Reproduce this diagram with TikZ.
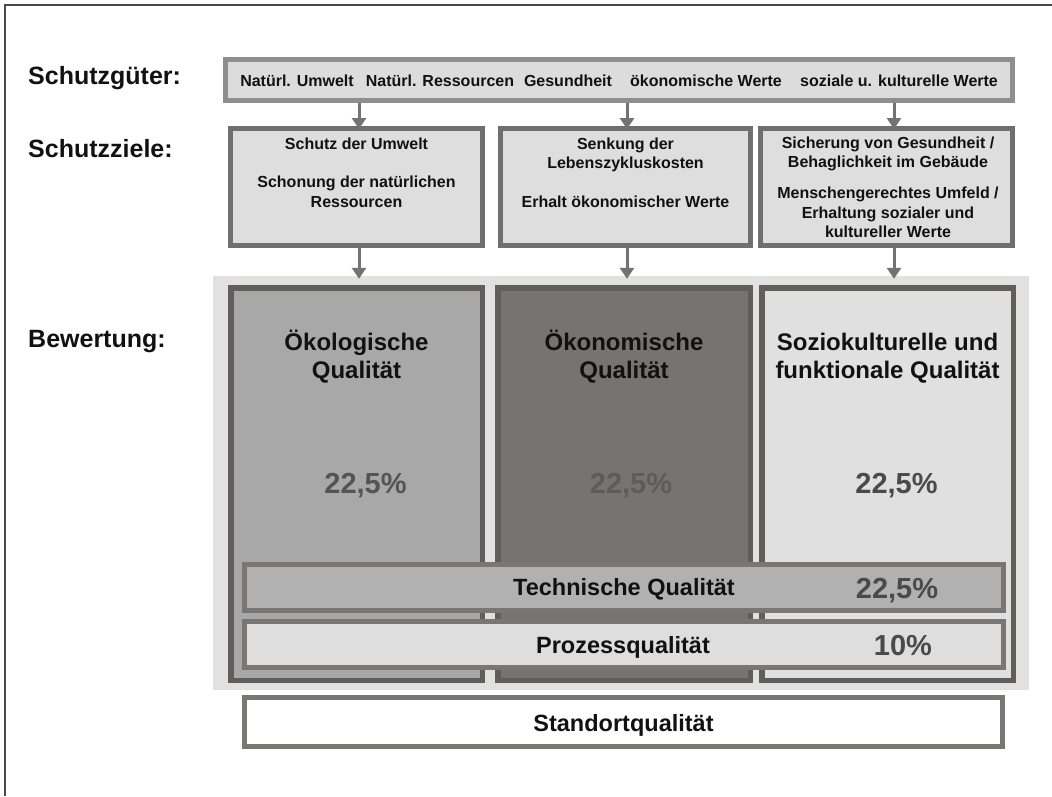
\documentclass[tikz,border=0pt]{standalone}
\usepackage{fontspec}
\setmainfont{Liberation Sans}
\usetikzlibrary{arrows.meta}

\definecolor{frameline}{HTML}{4A4A4A}
\definecolor{gutbox}{HTML}{DCDCDC}
\definecolor{gutline}{HTML}{8E8E8E}
\definecolor{zielbox}{HTML}{DEDEDE}
\definecolor{zielline}{HTML}{6F6F6F}
\definecolor{arrowgray}{HTML}{737373}
\definecolor{backpanel}{HTML}{E1E1E1}
\definecolor{colline}{HTML}{625D5A}
\definecolor{oekofill}{HTML}{A8A8A8}
\definecolor{oekonfill}{HTML}{767370}
\definecolor{soziofill}{HTML}{E0E0E0}
\definecolor{barline}{HTML}{7A7673}
\definecolor{techfill}{HTML}{B1B1B1}
\definecolor{procfill}{HTML}{DEDEDE}
\definecolor{pctA}{HTML}{555453}
\definecolor{pctB}{HTML}{5E5B59}
\definecolor{pctC}{HTML}{4A4A4A}
\definecolor{inktext}{HTML}{111111}

\newcommand{\boldsize}[1]{\fontsize{#1}{#1}\selectfont\bfseries}

\begin{document}
\begin{tikzpicture}[x=1pt,y=-1pt,
  box/.style={rectangle, inner sep=0pt},
  gutstyle/.style={box, fill=gutbox, draw=gutline, line width=5pt},
  zielstyle/.style={box, fill=zielbox, draw=zielline, line width=5pt},
  colstyle/.style={box, draw=colline, line width=5.5pt},
  barstyle/.style={box, draw=barline, line width=5pt},
  flow/.style={draw=arrowgray, line width=3pt, -{Triangle[width=14pt,length=11pt]}},
  lbl/.style={inner sep=0pt, anchor=base west, text=inktext, font=\boldsize{25}},
  small/.style={inner sep=0pt, anchor=base, text=inktext, font=\boldsize{16}},
  head/.style={inner sep=0pt, anchor=base, text=inktext, font=\boldsize{24}},
  pct/.style={inner sep=0pt, anchor=base, font=\boldsize{29}},
]
\useasboundingbox (0,0) rectangle (1052,796);

% frame lines on the left and top edge
\draw[frameline, line width=2pt] (5,796) -- (5,5) -- (1052,5);

% row labels
\node[lbl] (lguter) at (28,84) {Schutzgüter:};
\node[lbl] (lziele) at (28,157) {Schutzziele:};
\node[lbl] (lbew) at (28,347) {Bewertung:};

% protected goods
\node[gutstyle, minimum width=787pt, minimum height=41pt] (sg) at (619,80) {};
\node[small] (g1) at (297,86) {Natürl. Umwelt};
\node[small] (g2) at (440,86) {Natürl. Ressourcen};
\node[small] (g3) at (568,86) {Gesundheit};
\node[small] (g4) at (706,86) {ökonomische Werte};
\node[small] (g5) at (899,86) {soziale u. kulturelle Werte};

% protection targets
\node[zielstyle, minimum width=252pt, minimum height=117pt] (z1) at (356.5,187) {};
\node[zielstyle, minimum width=250pt, minimum height=117pt] (z2) at (625.5,187) {};
\node[zielstyle, minimum width=252pt, minimum height=117pt] (z3) at (886.5,187) {};

\node[small] (z1a) at (356.5,149) {Schutz der Umwelt};
\node[small] (z1b) at (356.5,187) {Schonung der natürlichen};
\node[small] (z1c) at (356.5,207) {Ressourcen};

\node[small] (z2a) at (625.5,149) {Senkung der};
\node[small] (z2b) at (625.5,168) {Lebenszykluskosten};
\node[small] (z2c) at (625.5,207) {Erhalt ökonomischer Werte};

\node[small] (z3a) at (888,148) {Sicherung von Gesundheit /};
\node[small] (z3b) at (888,167) {Behaglichkeit im Gebäude};
\node[small] (z3c) at (888,198) {Menschengerechtes Umfeld /};
\node[small] (z3d) at (888,218) {Erhaltung sozialer und};
\node[small] (z3e) at (888,237) {kultureller Werte};

% assessment panel
\node[box, fill=backpanel, minimum width=816pt, minimum height=414pt] (bg) at (621,483) {};

\node[colstyle, fill=oekofill, minimum width=251.5pt, minimum height=392.5pt] (c1) at (356.5,484) {};
\node[colstyle, fill=oekonfill, minimum width=252.5pt, minimum height=392.5pt] (c2) at (624,484) {};
\node[colstyle, fill=soziofill, minimum width=251.5pt, minimum height=392.5pt] (c3) at (887.5,484) {};

\node[head] (h1a) at (356.5,350) {Ökologische};
\node[head] (h1b) at (356.5,378) {Qualität};
\node[head] (h2a) at (624,350) {Ökonomische};
\node[head] (h2b) at (624,378) {Qualität};
\node[head] (h3a) at (887.5,350) {Soziokulturelle und};
\node[head] (h3b) at (887.5,378) {funktionale Qualität};

\node[pct, text=pctA] (p1) at (365.5,493) {22,5\%};
\node[pct, text=pctB] (p2) at (631,493) {22,5\%};
\node[pct, text=pctC] (p3) at (896.5,493) {22,5\%};

% cross-cutting bars
\node[barstyle, fill=techfill, minimum width=759pt, minimum height=46pt] (tq) at (624,587.5) {};
\node[head, font=\boldsize{23.5}] (tqt) at (624,595) {Technische Qualität};
\node[pct, text=pctC] (tqp) at (897,598) {22,5\%};

\node[barstyle, fill=procfill, minimum width=759pt, minimum height=46pt] (pq) at (624,644.5) {};
\node[head, font=\boldsize{23.5}] (pqt) at (623,653) {Prozessqualität};
\node[pct, text=pctC] (pqp) at (903,655) {10\%};

% site quality
\node[barstyle, fill=white, minimum width=758pt, minimum height=49pt] (so) at (623.5,722) {};
\node[head, font=\boldsize{23.5}] (sot) at (623.5,731) {Standortqualität};

% arrows goods -> targets -> assessment
\draw[flow] ([xshift=2.5pt]z1.north |- sg.south) -- ([xshift=2.5pt,yshift=-3pt]z1.north);
\draw[flow] ([xshift=1.5pt]z2.north |- sg.south) -- ([xshift=1.5pt,yshift=-3pt]z2.north);
\draw[flow] ([xshift=7.5pt]z3.north |- sg.south) -- ([xshift=7.5pt,yshift=-3pt]z3.north);

\draw[flow] ([xshift=2.5pt]z1.south) -- ([xshift=2.5pt,yshift=-3pt]z1.south |- bg.north);
\draw[flow] ([xshift=1.5pt]z2.south) -- ([xshift=1.5pt,yshift=-3pt]z2.south |- bg.north);
\draw[flow] ([xshift=7.5pt]z3.south) -- ([xshift=7.5pt,yshift=-3pt]z3.south |- bg.north);
\end{tikzpicture}
\end{document}
